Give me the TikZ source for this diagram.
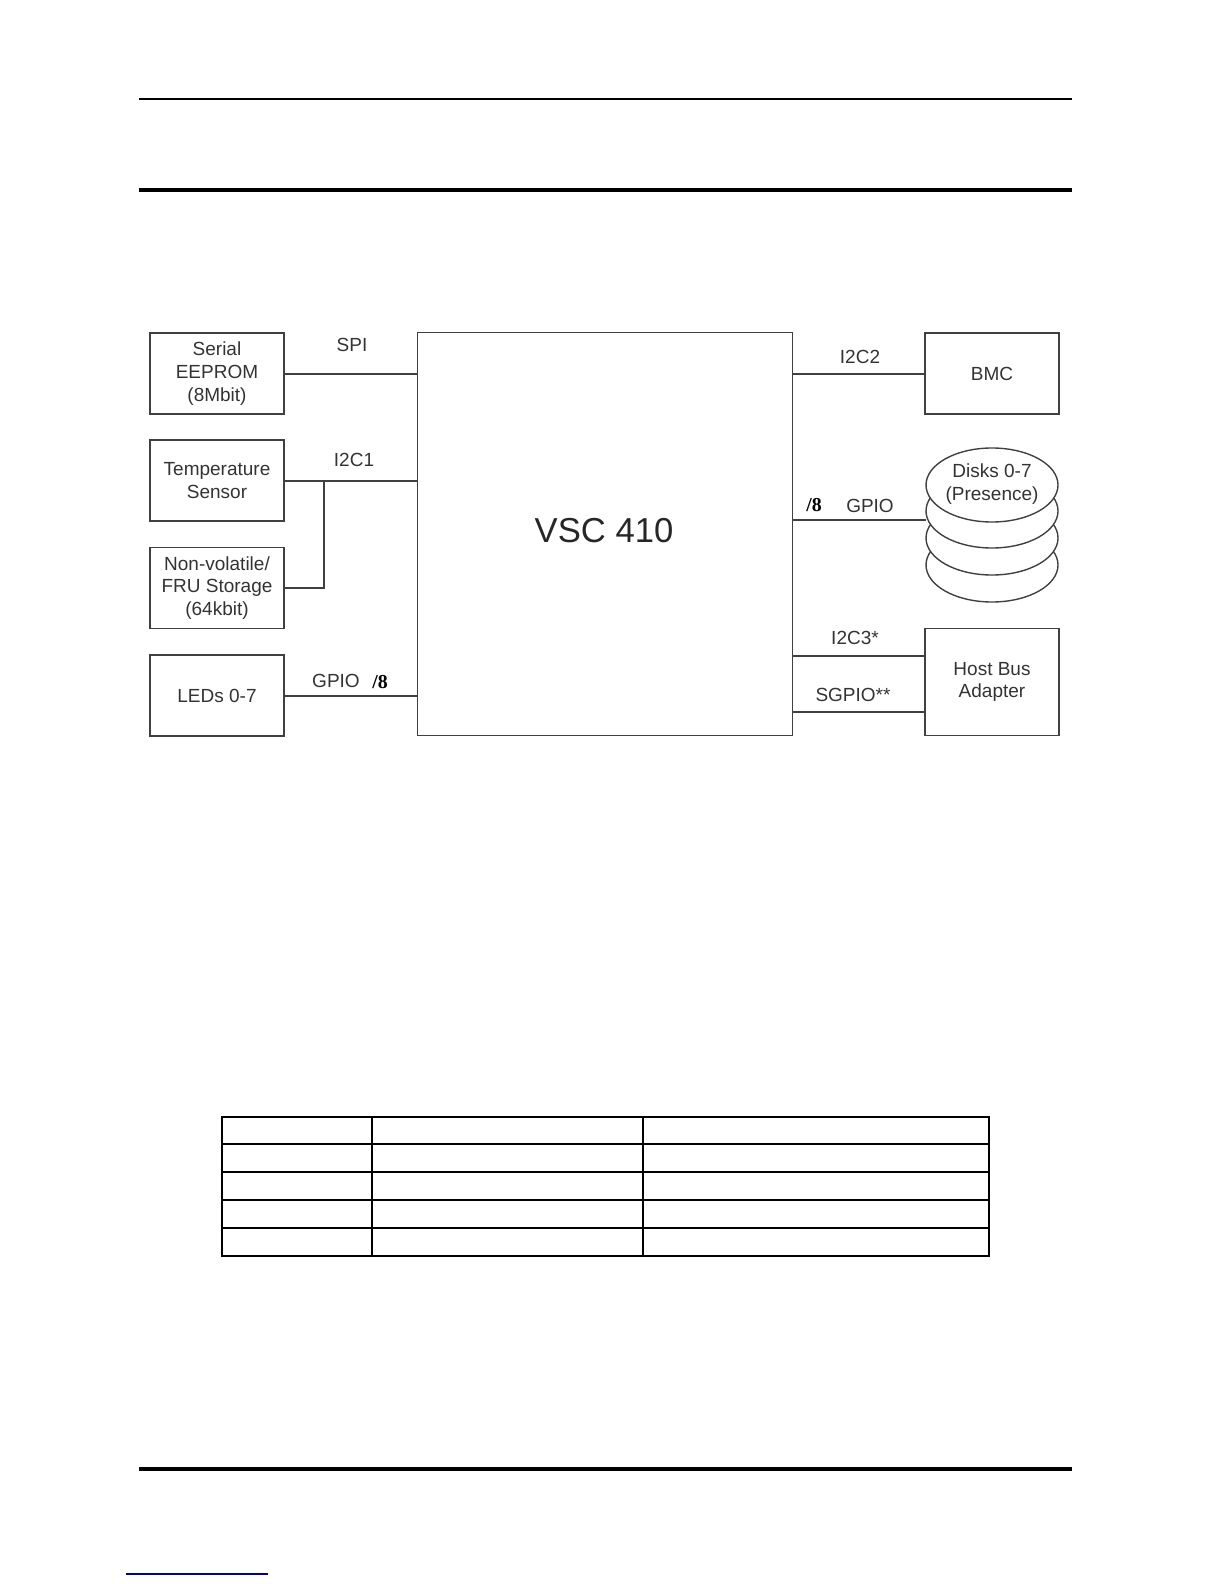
\documentclass[tikz,border=0pt]{standalone}
\usepackage{fontspec}
\setmainfont{Liberation Sans}
\newfontfamily\serif{Liberation Serif}
\begin{document}
\begin{tikzpicture}[x=0.5052pt,y=-0.5052pt,
  blk/.style={draw=black!75,line width=0.7pt},
  lbl/.style={font=\fontsize{9.6}{11.5}\selectfont,text=black!80,align=center},
  wire/.style={draw=black!75,line width=0.7pt},
  rule/.style={line width=1.2pt}]
\useasboundingbox (0,0) rectangle (1224,1584);
\draw[line width=0.9pt] (139,99) -- (1072,99);
\draw[line width=1.6pt] (139,190) -- (1072,190);
\draw[line width=1.6pt] (139,1469) -- (1072,1469);
\draw[blue!60!black,line width=0.7pt] (126,1574) -- (268,1574);
% blocks
\node[blk,minimum width=67.7pt,minimum height=40.9pt,lbl] (eep) at (217,373.5) {Serial\\EEPROM\\(8Mbit)};
\node[blk,minimum width=67.7pt,minimum height=40.9pt,lbl] (tmp) at (217,480.5) {Temperature\\Sensor};
\node[blk,minimum width=67.7pt,minimum height=40.9pt,lbl] (nv) at (217,588) {Non-volatile/\\FRU Storage\\(64kbit)};
\node[blk,minimum width=67.7pt,minimum height=40.9pt,lbl] (led) at (217,695.5) {LEDs 0-7};
\node[blk,minimum width=189.5pt,minimum height=203.6pt] (vsc) at (605,534) {};
\node[font=\fontsize{17.5}{20}\selectfont,text=black!85] at (604,531) {VSC 410};
\node[blk,minimum width=67.7pt,minimum height=40.9pt,lbl] (bmc) at (992,373.5) {BMC};
\node[blk,minimum width=67.7pt,minimum height=54pt,lbl] (hba) at (992,682) {Host Bus\\Adapter};
% disks
\foreach \c in {565,538,511}{\draw[blk,fill=white] (992,\c) ellipse (66 and 37);}
\draw[blk,fill=white] (992,485) ellipse (66 and 37);
\node[lbl] (dsk) at (992,484) {Disks 0-7\\(Presence)};
\coordinate (dskl) at (926,520);
% connectors
\draw[wire] (eep.east|-0,374) -- (vsc.west|-0,374);
\node[lbl] at (352,345) {SPI};
\draw[wire] (tmp.east|-0,481) -- (vsc.west|-0,481);
\draw[wire] (324,481) -- (324,588) -- (nv.east|-0,588);
\node[lbl] at (354,460) {I2C1};
\draw[wire] (led.east|-0,696) -- (vsc.west|-0,696);
\node[lbl] at (336,681) {GPIO};
\node[font=\serif\bfseries\fontsize{10}{11}\selectfont] at (380,682) {/8};
\draw[wire] (vsc.east|-0,520) -- (dskl);
\node[lbl] at (870,506) {GPIO};
\node[font=\serif\bfseries\fontsize{10}{11}\selectfont] at (814,505) {/8};
\draw[wire] (vsc.east|-0,374) -- (bmc.west|-0,374);
\node[lbl] at (860,357) {I2C2};
\draw[wire] (vsc.east|-0,656) -- (hba.west|-0,656);
\node[lbl] at (855,638) {I2C3*};
\draw[wire] (vsc.east|-0,712) -- (hba.west|-0,712);
\node[lbl] at (853,695) {SGPIO**};
% table
\draw[line width=0.6pt] (222,1117) rectangle (989,1256);
\foreach \y in {1144,1172,1200,1228}{\draw[line width=0.6pt] (222,\y) -- (989,\y);}
\foreach \x in {372,643}{\draw[line width=0.6pt] (\x,1117) -- (\x,1256);}
\end{tikzpicture}
\end{document}
